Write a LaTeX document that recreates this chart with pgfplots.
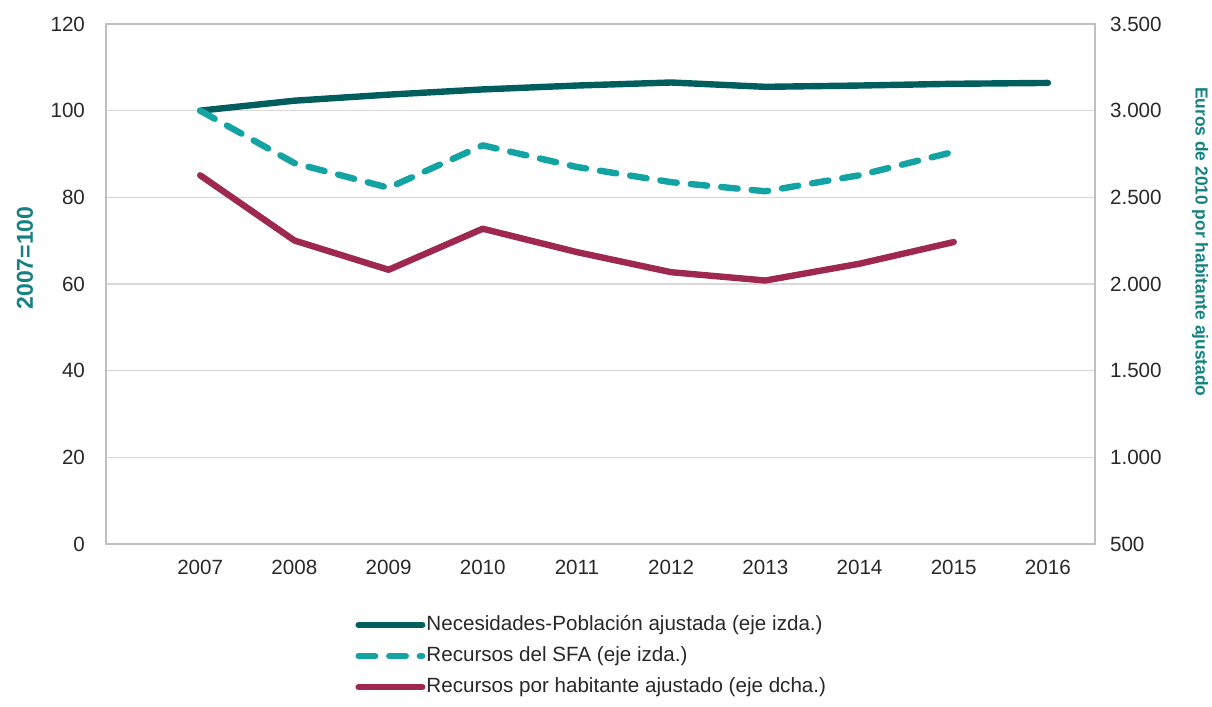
\documentclass[border=0pt]{standalone}
\usepackage{fontspec}
\setmainfont{Liberation Sans}
\usepackage{pgfplots}
\pgfplotsset{compat=1.18}
\definecolor{cNec}{RGB}{0,94,94}
\definecolor{cSFA}{RGB}{20,163,163}
\definecolor{cRec}{RGB}{158,40,80}
\definecolor{cLab}{RGB}{20,130,130}
\definecolor{cGrid}{RGB}{217,217,217}
\definecolor{cBorder}{RGB}{191,191,191}
\definecolor{cTick}{RGB}{40,40,40}
\tikzset{
  nec/.style={color=cNec, line width=3.2pt, line cap=round, line join=round},
  sfa/.style={color=cSFA, line width=3.2pt, line cap=round, line join=round, dash pattern=on 8.3pt off 7pt},
  rec/.style={color=cRec, line width=3.2pt, line cap=round, line join=round},
}
\begin{document}
\begin{tikzpicture}
\pgfplotsset{every axis/.append style={
  scale only axis, width=494.5pt, height=260pt,
  xmin=2006, xmax=2016.5,
  font=\fontsize{10.3}{12}\selectfont,
  /pgf/number format/assume math mode=true,
  major tick length=0pt, tick style={draw=none},
  ticklabel style={text=cTick},
}}
\begin{axis}[name=ax,
  axis line style={draw=cBorder, line width=0.8pt},
  ymin=0, ymax=120, ytick={0,20,...,120},
  xtick={2007,2008,...,2016},
  ymajorgrids, grid style={draw=cGrid, line width=0.8pt},
  /pgf/number format/1000 sep={},
  yticklabel style={xshift=-7pt},
  xticklabel style={yshift=-4.5pt},
  ylabel={\textbf{2007=100}},
  every axis y label/.style={at={(rel axis cs:0,0.55)}, xshift=-40.5pt, rotate=90, anchor=center,
    font=\fontsize{11.5}{13}\selectfont, text=cLab},
]
\addplot[nec] coordinates {(2007,100) (2008,102.3) (2009,103.7) (2010,104.9) (2011,105.8) (2012,106.5) (2013,105.5) (2014,105.8) (2015,106.2) (2016,106.4)};
\addplot[sfa] coordinates {(2007,100) (2008,87.9) (2009,82.2) (2010,92.0) (2011,87.0) (2012,83.5) (2013,81.4) (2014,85.1) (2015,90.5)};
\end{axis}
\begin{axis}[
  axis x line=none, axis y line*=right,
  axis line style={draw=cBorder, line width=0.8pt},
  ymin=500, ymax=3500, ytick={500,1000,...,3500},
  /pgf/number format/1000 sep={.},
  yticklabel style={xshift=4pt},
  ylabel={\textbf{Euros de 2010 por habitante ajustado}},
  every axis y label/.style={at={(rel axis cs:1,0.581)}, xshift=52.5pt, rotate=-90, anchor=center,
    font=\fontsize{8.7}{10}\selectfont, text=cLab},
  legend image code/.code={\draw[#1] (1.6pt,0pt) -- (33.4pt,0pt);},
  legend cell align=left,
  legend style={at={(0.2518,-0.1346)}, anchor=north west, draw=none, fill=none,
    inner sep=0pt, row sep=4.8pt, font=\fontsize{10.3}{12}\selectfont,
    nodes={inner sep=0.5pt, text height=7.5pt, text depth=2.2pt, text=cTick},
    /tikz/every even column/.style={column sep=0pt}},
]
\addlegendimage{nec}
\addlegendentry{Necesidades-Población ajustada (eje izda.)}
\addlegendimage{sfa}
\addlegendentry{Recursos del SFA (eje izda.)}
\addplot[rec] coordinates {(2007,2627) (2008,2251) (2009,2082) (2010,2319) (2011,2184) (2012,2068) (2013,2020) (2014,2117) (2015,2242)};
\addlegendentry{Recursos por habitante ajustado (eje dcha.)}
\end{axis}
\pgfresetboundingbox
\path (ax.south west) ++(-53pt,-81.5pt) rectangle ++(606pt,353.5pt);
\end{tikzpicture}
\end{document}
